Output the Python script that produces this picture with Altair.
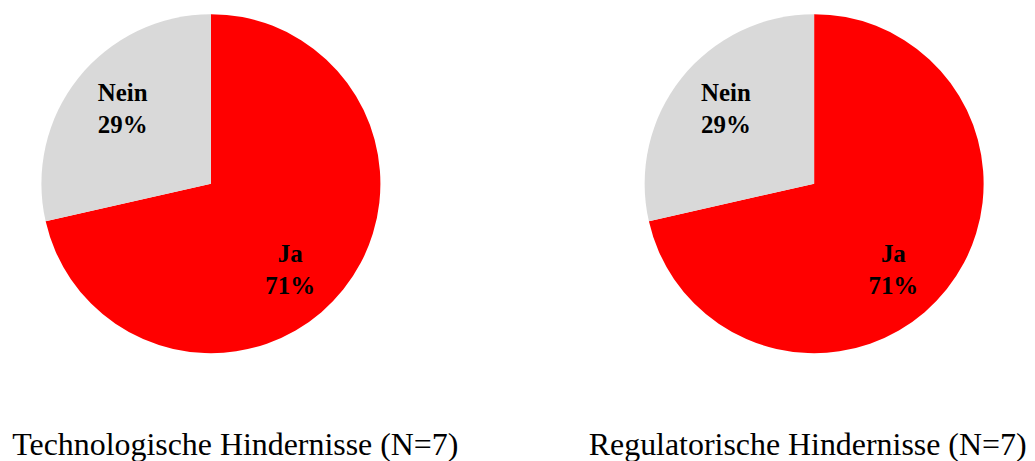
import altair as alt
import pandas as pd

# Data
categories = ["Ja", "Nein"]
tech_values = [5, 2]
reg_values = [5, 2]
pct_labels = ["71%", "29%"]
titles = ["Technologische Hindernisse (N=7)", "Regulatorische Hindernisse (N=7)"]
colors = ["#FF0000", "#D9D9D9"]

SERIF = "Liberation Serif"
W, H = 407, 351
R = 170


def make_pie(values, title, dx):
    df = pd.DataFrame({
        "cat": categories,
        "value": values,
        "order": list(range(len(categories))),
        "label": [f"{c}\n{p}" for c, p in zip(categories, pct_labels)],
    })
    base = alt.Chart(df).encode(
        theta=alt.Theta("value:Q", stack=True),
        order=alt.Order("order:Q"),
    )
    arc = base.mark_arc(outerRadius=R, stroke=None).encode(
        color=alt.Color("cat:N", scale=alt.Scale(domain=categories, range=colors), legend=None)
    )
    txt_style = dict(font=SERIF, fontSize=25, fontWeight="bold", color="black",
                     lineBreak="\n", lineHeight=32, align="center", baseline="middle",
                     radius=117)
    t_ja = base.mark_text(dx=-12, dy=-2, **txt_style).encode(
        text=alt.condition(alt.datum.cat == "Ja", "label:N", alt.value("")))
    t_nein = base.mark_text(dx=3, dy=-18, **txt_style).encode(
        text=alt.condition(alt.datum.cat == "Nein", "label:N", alt.value("")))
    return alt.layer(arc, t_ja, t_nein).properties(
        width=W, height=H,
        title=alt.TitleParams(title, orient="bottom", font=SERIF, fontSize=32,
                              fontWeight="normal", color="black", anchor="middle",
                              dx=dx, offset=72),
    )


left = make_pie(tech_values, titles[0], 24.5)
right = make_pie(reg_values, titles[1], -6.5)

chart = alt.hconcat(left, right, spacing=198, bounds="flush").properties(
    padding=0
).configure_view(stroke=None).configure(background="white")

chart.save("out.html", embed_options={"renderer": "svg", "actions": False})
